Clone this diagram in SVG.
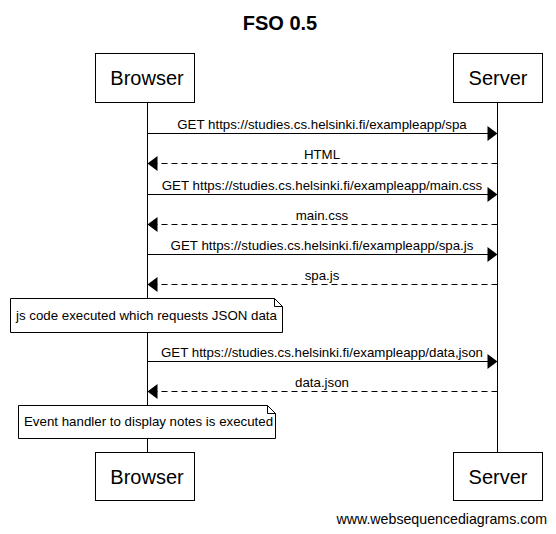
<svg xmlns="http://www.w3.org/2000/svg" width="556" height="534" viewBox="0 0 556 534">
<style>
.box{fill:#fff;stroke:#000;stroke-width:1}
.life{stroke:#000;stroke-width:1}
.msg{stroke:#000;stroke-width:1;fill:none}
.dash{stroke-dasharray:6,4}
.pt{font-family:"Liberation Sans",Arial,sans-serif;font-size:20px;text-anchor:middle}
.mt{font-family:"Liberation Sans",Arial,sans-serif;font-size:13.3px;text-anchor:middle}
.nt{font-family:"Liberation Sans",Arial,sans-serif;font-size:13.3px}
.head{fill:#000}
</style>
<rect width="556" height="534" fill="#fff"/>
<text x="280" y="30" font-family="Liberation Sans,Arial,sans-serif" font-size="20" font-weight="bold" text-anchor="middle">FSO 0.5</text>
<g id="lifelines">
<line class="life" x1="147.5" y1="102" x2="147.5" y2="452"/>
<line class="life" x1="497.5" y1="102" x2="497.5" y2="452"/>
</g>
<g id="browser-top"><rect class="box" x="95.5" y="53.5" width="99" height="49"/><text class="pt" x="147" y="85">Browser</text></g>
<g id="server-top"><rect class="box" x="453.5" y="53.5" width="89" height="49"/><text class="pt" x="498" y="85">Server</text></g>
<g id="browser-bottom"><rect class="box" x="95.5" y="452.5" width="99" height="48"/><text class="pt" x="147" y="484">Browser</text></g>
<g id="server-bottom"><rect class="box" x="453.5" y="452.5" width="89" height="48"/><text class="pt" x="498" y="484">Server</text></g>
<g id="connectors">
<line class="msg" x1="147.5" y1="133.5" x2="488" y2="133.5"/><polygon class="head" points="497.5,133.5 487.5,126 487.5,141"/>
<text class="mt" x="322" y="129">GET https://studies.cs.helsinki.fi/exampleapp/spa</text>
<line class="msg dash" x1="497.5" y1="163.5" x2="157" y2="163.5"/><polygon class="head" points="147.5,163.5 157.5,156 157.5,171"/>
<text class="mt" x="322" y="159">HTML</text>
<line class="msg" x1="147.5" y1="194.5" x2="488" y2="194.5"/><polygon class="head" points="497.5,194.5 487.5,187 487.5,202"/>
<text class="mt" x="322" y="190">GET https://studies.cs.helsinki.fi/exampleapp/main.css</text>
<line class="msg dash" x1="497.5" y1="224.5" x2="157" y2="224.5"/><polygon class="head" points="147.5,224.5 157.5,217 157.5,232"/>
<text class="mt" x="322" y="220">main.css</text>
<line class="msg" x1="147.5" y1="254.5" x2="488" y2="254.5"/><polygon class="head" points="497.5,254.5 487.5,247 487.5,262"/>
<text class="mt" x="322" y="250">GET https://studies.cs.helsinki.fi/exampleapp/spa.js</text>
<line class="msg dash" x1="497.5" y1="284.5" x2="157" y2="284.5"/><polygon class="head" points="147.5,284.5 157.5,277 157.5,292"/>
<text class="mt" x="322" y="280">spa.js</text>
<line class="msg" x1="147.5" y1="361.5" x2="488" y2="361.5"/><polygon class="head" points="497.5,361.5 487.5,354 487.5,369"/>
<text class="mt" x="322" y="357">GET https://studies.cs.helsinki.fi/exampleapp/data,json</text>
<line class="msg dash" x1="497.5" y1="391.5" x2="157" y2="391.5"/><polygon class="head" points="147.5,391.5 157.5,384 157.5,399"/>
<text class="mt" x="322" y="387">data.json</text>
</g>
<g id="note1">
<path class="box" d="M10.5,298.5 H274.5 L282.5,306.5 V332.5 H10.5 Z"/>
<path class="msg" d="M274.5,298.5 V306.5 H282.5"/>
<text class="nt" x="16" y="320">js code executed which requests JSON data</text>
</g>
<g id="note2">
<path class="box" d="M18.5,405.5 H267.5 L275.5,413.5 V438.5 H18.5 Z"/>
<path class="msg" d="M267.5,405.5 V413.5 H275.5"/>
<text class="nt" x="24" y="426">Event handler to display notes is executed</text>
</g>
<text x="547" y="524" font-family="Liberation Sans,Arial,sans-serif" font-size="14.2" text-anchor="end">www.websequencediagrams.com</text>
</svg>
